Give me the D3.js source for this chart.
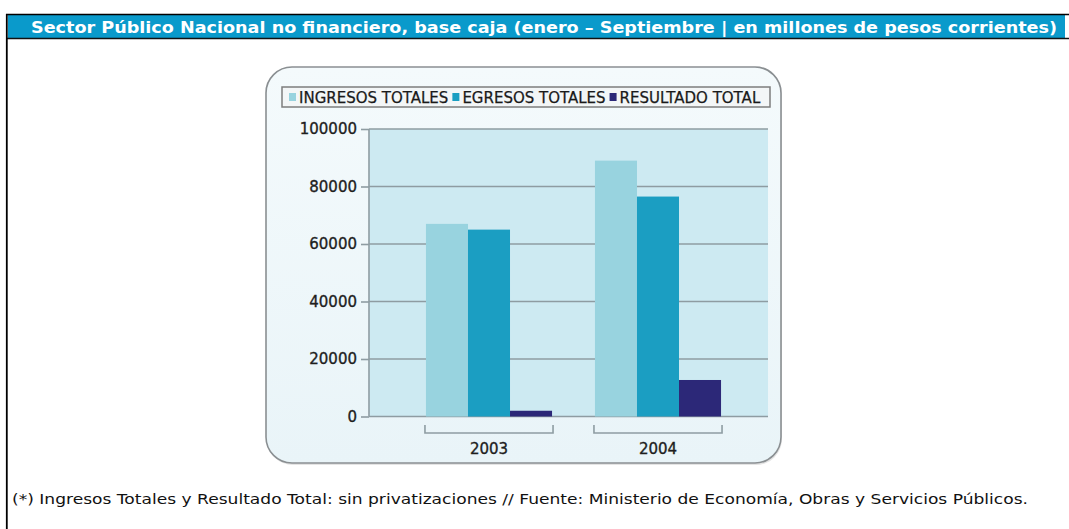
<!DOCTYPE html>
<html>
<head>
<meta charset="utf-8">
<script src="https://cdn.jsdelivr.net/npm/d3@7"></script>
<style>
  html, body { margin: 0; padding: 0; background: #fff; }
  svg { display: block; }
</style>
</head>
<body>
<div id="chart"></div>
<script>
const W = 1069, H = 529;

// data
const years = ['2003', '2004'];
const series = ['INGRESOS TOTALES', 'EGRESOS TOTALES', 'RESULTADO TOTAL'];
const ingresos = [67000, 89000];
const egresos = [65000, 76500];
const resultado = [2000, 12700];
const yTicks = [0, 20000, 40000, 60000, 80000, 100000];
const titleText = 'Sector Público Nacional no financiero, base caja (enero – Septiembre | en millones de pesos corrientes)';
const noteText = '(*) Ingresos Totales y Resultado Total: sin privatizaciones // Fuente: Ministerio de Economía, Obras y Servicios Públicos.';

const COLORS = ['#98d3df', '#1b9ec2', '#2c2878'];
const values = [ingresos, egresos, resultado];

// layout
const PANEL = { x: 266, y: 67, w: 515, h: 396, r: 26 };
const PLOT = { left: 369, right: 768, top: 129, bottom: 416.5 };
const FONT = 'Verdana, "DejaVu Sans", sans-serif';

const svg = d3.select('#chart').append('svg')
  .attr('width', W).attr('height', H);

const defs = svg.append('defs');
const grad = defs.append('linearGradient').attr('id', 'panelBg')
  .attr('x1', 0).attr('y1', 0).attr('x2', 0).attr('y2', 1);
grad.append('stop').attr('offset', '0%').attr('stop-color', '#f4fafc');
grad.append('stop').attr('offset', '100%').attr('stop-color', '#e9f4f8');

// outer frame + title bar
svg.append('rect').attr('x', 8).attr('y', 15).attr('width', 1057).attr('height', 23)
  .attr('fill', '#0a9acb');
svg.append('line').attr('x1', 6).attr('x2', W).attr('y1', 14.5).attr('y2', 14.5)
  .attr('stroke', '#000').attr('stroke-width', 1.6);
svg.append('line').attr('x1', 6).attr('x2', W).attr('y1', 38.5).attr('y2', 38.5)
  .attr('stroke', '#111').attr('stroke-width', 1.4);
svg.append('line').attr('x1', 6.8).attr('x2', 6.8).attr('y1', 14).attr('y2', H)
  .attr('stroke', '#000').attr('stroke-width', 1.8);

svg.append('text')
  .attr('x', 31).attr('y', 32.5)
  .attr('font-family', FONT)
  .attr('font-size', 15.5).attr('font-weight', 'bold')
  .attr('fill', '#fff')
  .attr('textLength', 1026).attr('lengthAdjust', 'spacingAndGlyphs')
  .text(titleText);

// chart panel
svg.append('rect')
  .attr('x', PANEL.x + 1).attr('y', PANEL.y + 2).attr('width', PANEL.w).attr('height', PANEL.h)
  .attr('rx', PANEL.r).attr('fill', '#c9c9c9').attr('opacity', 0.5);
svg.append('rect')
  .attr('x', PANEL.x).attr('y', PANEL.y).attr('width', PANEL.w).attr('height', PANEL.h)
  .attr('rx', PANEL.r).attr('fill', 'url(#panelBg)')
  .attr('stroke', '#8a8f92').attr('stroke-width', 1.6);

// scales
const x = d3.scaleBand().domain(years).range([404.5, 742.5]).paddingInner(0.254).paddingOuter(0.127);
const xs = d3.scaleBand().domain(series).range([0, x.bandwidth()]);
const y = d3.scaleLinear().domain([0, 100000]).range([PLOT.bottom, PLOT.top]);

// plot background
svg.append('rect')
  .attr('x', PLOT.left).attr('y', PLOT.top)
  .attr('width', PLOT.right - PLOT.left).attr('height', PLOT.bottom - PLOT.top)
  .attr('fill', '#cdeaf2');

// gridlines
svg.append('g').selectAll('line').data(yTicks).join('line')
  .attr('x1', PLOT.left).attr('x2', PLOT.right)
  .attr('y1', d => y(d)).attr('y2', d => y(d))
  .attr('stroke', '#8e9ca2').attr('stroke-width', 1.6);

// bars
const groups = svg.append('g').selectAll('g').data(years).join('g')
  .attr('transform', d => `translate(${x(d)},0)`);
groups.selectAll('rect')
  .data((yr, i) => series.map((s, k) => ({ s, k, v: values[k][i] })))
  .join('rect')
  .attr('x', d => xs(d.s))
  .attr('width', xs.bandwidth())
  .attr('y', d => y(d.v))
  .attr('height', d => y(0) - y(d.v))
  .attr('fill', d => COLORS[d.k]);

// y axis
const yAxis = svg.append('g')
  .attr('transform', `translate(${PLOT.left},0)`)
  .call(d3.axisLeft(y).tickValues(yTicks).tickFormat(d3.format('d')).tickSize(8).tickPadding(4));
yAxis.select('.domain').attr('stroke', '#8e9ca2').attr('stroke-width', 1.6)
  .attr('d', `M0,${PLOT.top}V${PLOT.bottom}`);
yAxis.selectAll('.tick line').attr('stroke', '#8e9ca2').attr('stroke-width', 1.6);
yAxis.selectAll('.tick text')
  .attr('font-family', FONT)
  .attr('font-size', 15).attr('fill', '#1e1e1e')
  .attr('stroke', '#1e1e1e').attr('stroke-width', 0.35);

// category brackets and labels
const br = svg.append('g');
years.forEach(yr => {
  const x0 = x(yr) - 1, x1 = x(yr) + x.bandwidth() + 1;
  br.append('path')
    .attr('d', `M${x0},425V433H${x1}V425`)
    .attr('fill', 'none').attr('stroke', '#8e9ca2').attr('stroke-width', 1.6);
  br.append('text')
    .attr('x', x(yr) + x.bandwidth() / 2).attr('y', 454)
    .attr('text-anchor', 'middle')
    .attr('font-family', FONT)
    .attr('font-size', 15).attr('fill', '#1e1e1e')
    .attr('stroke', '#1e1e1e').attr('stroke-width', 0.35)
    .text(yr);
});

// legend
const LEG = { x: 282, y: 87, w: 488, h: 20 };
svg.append('rect')
  .attr('x', LEG.x).attr('y', LEG.y).attr('width', LEG.w).attr('height', LEG.h)
  .attr('fill', '#f3f6f7').attr('stroke', '#7d7d7d').attr('stroke-width', 1.5);
const lg = svg.append('g');
let lx = LEG.x + 7;
series.forEach((s, k) => {
  lg.append('rect')
    .attr('x', lx).attr('y', LEG.y + 6).attr('width', 7).attr('height', 8)
    .attr('fill', COLORS[k]);
  const t = lg.append('text')
    .attr('x', lx + 10).attr('y', LEG.y + 15.5)
    .attr('font-family', FONT)
    .attr('font-size', 15).attr('fill', '#1a1a1a')
    .attr('stroke', '#1a1a1a').attr('stroke-width', 0.25)
    .text(s);
  lx += 10 + t.node().getComputedTextLength() + 4;
});

// footnote
svg.append('text')
  .attr('x', 12).attr('y', 504)
  .attr('font-family', 'Tahoma, "DejaVu Sans", sans-serif')
  .attr('font-size', 14).attr('fill', '#111')
  .attr('textLength', 1016).attr('lengthAdjust', 'spacingAndGlyphs')
  .text(noteText);
</script>
</body>
</html>
